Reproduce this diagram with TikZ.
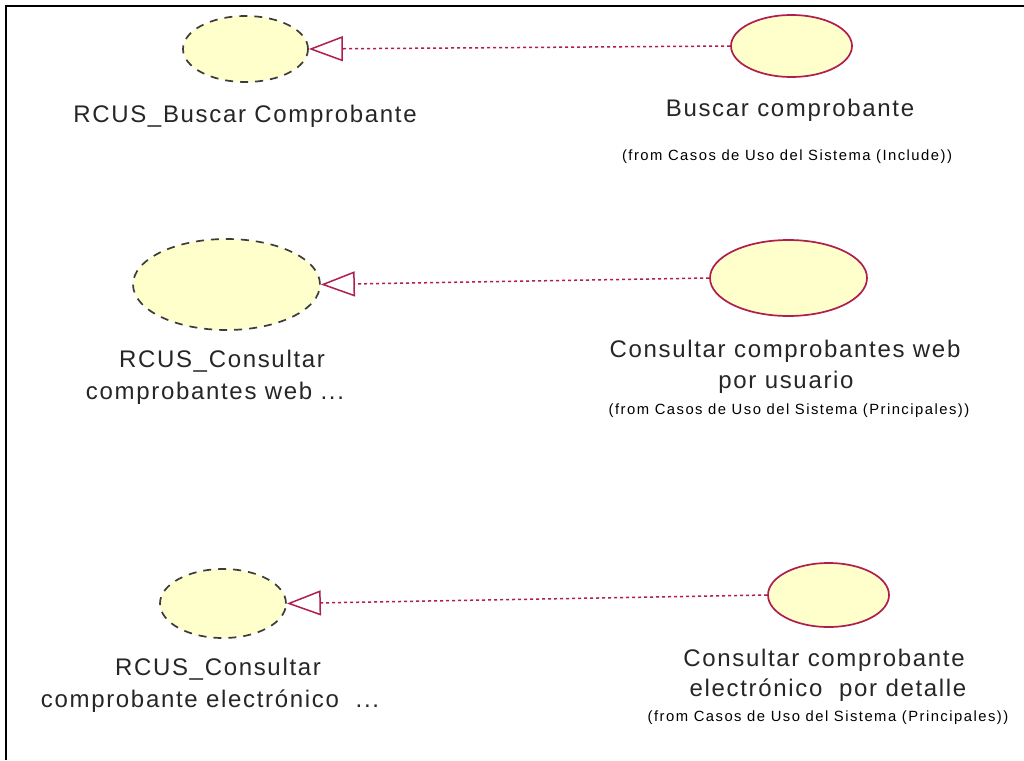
\documentclass[tikz,border=0pt]{standalone}
\usepackage{fontspec}
\setmainfont{Liberation Sans}
\newfontfamily\bigf[LetterSpace=7]{Liberation Sans}
\newfontfamily\smallf[LetterSpace=10]{Liberation Sans}
\usetikzlibrary{shapes.geometric,arrows.meta}
\definecolor{ucred}{RGB}{176,30,76}
\definecolor{ucfill}{RGB}{255,255,204}
\definecolor{ucgrey}{RGB}{60,60,60}
\tikzset{
  realuc/.style={ellipse, draw=ucred, fill=ucfill, line width=1.7pt, inner sep=0pt},
  specuc/.style={ellipse, draw=ucgrey, fill=ucfill, line width=1.7pt, inner sep=0pt, dash pattern=on 8pt off 7pt},
  dep/.style={draw=ucred, line width=1.5pt, dash pattern=on 3pt off 3pt,
    -{Triangle[open, length=34pt, width=25pt, line width=1.5pt]}},
  bigtxt/.style={anchor=base, inner sep=0pt, font=\fontsize{24}{26}\bigf, text=black!85},
  smalltxt/.style={anchor=base, inner sep=0pt, font=\fontsize{14.8}{16}\smallf, text=black},
}
\begin{document}
\begin{tikzpicture}[x=1pt,y=-1pt]
\useasboundingbox (0,0) rectangle (1024,760);
\fill[white] (0,0) rectangle (1024,760);
\draw[line width=2.5pt] (6,760) -- (6,6) -- (1024,6);

% row 1
\node[specuc, minimum width=125pt, minimum height=66pt] (e1) at (245.5,49) {};
\node[realuc, minimum width=121pt, minimum height=62pt] (e2) at (791.5,46) {};
\draw[dep] (e2.west) -- (e1.east);
\node[bigtxt] (t1) at (245,122) {RCUS\_Buscar Comprobante};
\node[bigtxt] (t2) at (790,116) {Buscar comprobante};
\node[smalltxt] (t3) at (787,160) {(from Casos de Uso del Sistema (Include))};

% row 2
\node[specuc, minimum width=187pt, minimum height=91pt] (e3) at (226.5,284.5) {};
\node[realuc, minimum width=157pt, minimum height=76pt] (e4) at (788.5,278) {};
\draw[dep] (e4.west) -- (e3.east);
\node[bigtxt] (t4) at (222,367) {RCUS\_Consultar};
\node[bigtxt] (t5) at (215,399) {comprobantes web ...};
\node[bigtxt] (t6) at (785,357) {Consultar comprobantes web};
\node[bigtxt] (t7) at (786,388) {por usuario};
\node[smalltxt] (t8) at (789,414) {(from Casos de Uso del Sistema (Principales))};

% row 3
\node[specuc, minimum width=126pt, minimum height=69pt] (e5) at (223,603.5) {};
\node[realuc, minimum width=121pt, minimum height=64pt] (e6) at (828.5,595) {};
\draw[dep] (e6.west) -- (e5.east);
\node[bigtxt] (t9) at (218,675) {RCUS\_Consultar};
\node[bigtxt] (t10) at (210,707) {comprobante electrónico \ ...};
\node[bigtxt] (t11) at (824,666) {Consultar comprobante};
\node[bigtxt] (t12) at (828,696) {electrónico \ por detalle};
\node[smalltxt] (t13) at (828,721) {(from Casos de Uso del Sistema (Principales))};
\end{tikzpicture}
\end{document}
